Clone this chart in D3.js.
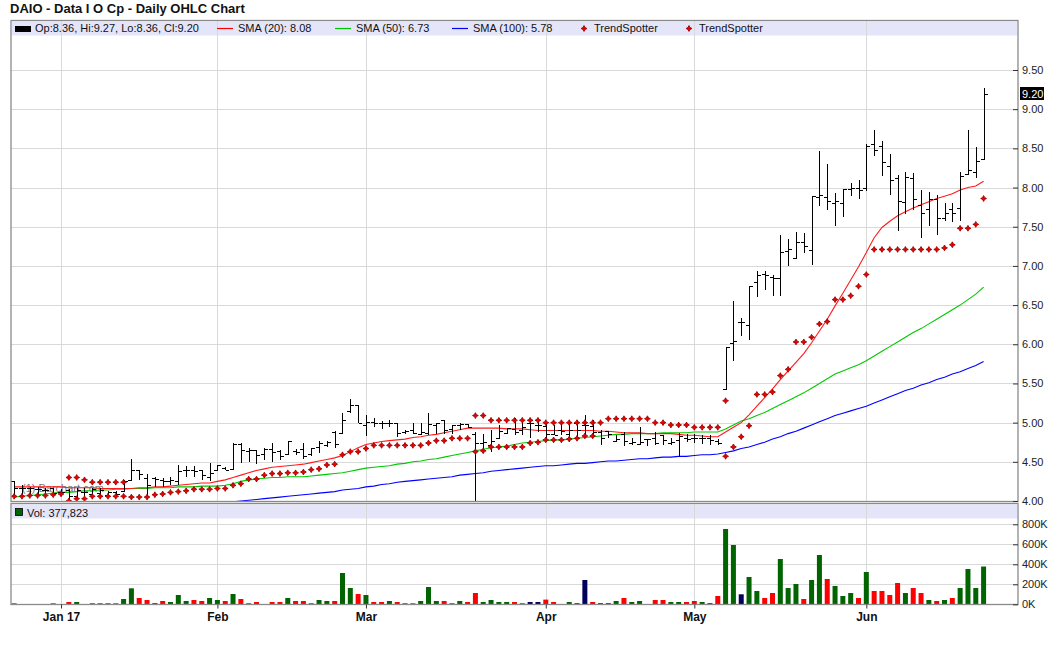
<!DOCTYPE html>
<html><head><meta charset="utf-8">
<script src="https://cdn.jsdelivr.net/npm/d3@7/dist/d3.min.js"></script>
<style>
html,body{margin:0;padding:0;background:#fff;}
svg{display:block;font-family:"Liberation Sans",Arial,Helvetica,sans-serif;}
</style></head><body>
<svg id="chart" width="1060" height="645"></svg>
<script>
// ---- DATA ----
const titleText = "DAIO - Data I O Cp - Daily OHLC Chart";
const monthTickIndex = [6, 26, 45, 68, 87, 109];
const monthTickLabels = ["Jan 17", "Feb", "Mar", "Apr", "May", "Jun"];
const priceTicks = [4.00, 4.50, 5.00, 5.50, 6.00, 6.50, 7.00, 7.50, 8.00, 8.50, 9.00, 9.50];
const volumeTicks = [0, 200, 400, 600, 800];

const openP = [4.25,4.17,4.16,4.15,4.14,4.17,4.11,4.14,4.06,4.12,4.09,4.10,4.08,4.12,4.13,4.27,4.40,4.29,4.29,4.27,
4.26,4.26,4.39,4.40,4.40,4.30,4.40,4.42,4.41,4.73,4.64,4.65,4.60,4.66,4.64,4.60,4.64,4.66,4.60,4.69,
4.72,4.88,4.87,5.15,5.23,4.97,5.01,5.00,4.99,4.99,4.88,4.91,4.86,4.87,4.97,5.04,4.92,4.97,4.98,4.86,
4.74,4.72,4.80,4.87,4.92,4.91,5.00,4.97,4.96,4.86,4.91,4.86,4.99,4.97,4.96,4.88,4.89,4.77,4.86,4.74,
4.73,4.79,4.80,4.84,4.74,4.78,4.80,4.81,4.80,4.80,4.76,5.43,6.02,6.28,6.25,6.79,6.90,6.86,6.84,7.19,
7.10,7.30,7.20,7.88,7.88,7.80,7.80,7.98,7.99,7.99,8.56,8.53,8.28,8.12,7.82,8.12,7.78,7.72,7.85,7.61,
7.72,7.74,8.17,8.20,8.36];
const highP = [4.26,4.20,4.18,4.18,4.16,4.17,4.15,4.15,4.16,4.16,4.17,4.16,4.13,4.13,4.27,4.54,4.40,4.35,4.30,4.29,
4.30,4.46,4.45,4.45,4.40,4.49,4.46,4.44,4.74,4.74,4.67,4.65,4.67,4.74,4.65,4.77,4.66,4.74,4.67,4.76,
4.76,4.89,5.12,5.30,5.23,5.10,5.06,5.02,5.04,4.99,4.90,4.99,4.99,5.12,4.99,5.04,4.97,4.99,4.98,4.88,
4.86,4.90,4.97,4.93,5.06,5.03,5.06,5.04,5.00,4.97,5.00,5.03,5.03,5.10,5.03,4.91,4.89,4.84,4.88,4.80,
4.94,4.79,4.88,4.84,4.80,4.87,4.86,4.86,4.84,4.84,4.79,5.97,6.55,6.33,6.75,6.93,6.94,6.89,7.40,7.34,
7.43,7.42,7.89,8.47,8.30,7.93,7.98,8.06,8.10,8.55,8.74,8.60,8.43,8.16,8.20,8.19,7.97,7.94,7.91,7.80,
7.80,8.20,8.73,8.52,9.27];
const lowP = [4.08,4.08,4.08,4.08,4.08,4.07,4.06,4.02,4.04,4.06,4.07,4.07,4.06,4.07,4.12,4.27,4.27,4.03,4.18,4.18,
4.20,4.20,4.31,4.31,4.27,4.25,4.38,4.39,4.40,4.49,4.50,4.47,4.52,4.50,4.52,4.59,4.59,4.54,4.57,4.61,
4.69,4.68,4.85,5.12,5.00,4.83,4.94,4.92,4.95,4.82,4.85,4.85,4.85,4.84,4.86,4.86,4.86,4.91,4.93,4.00,
4.63,4.62,4.79,4.86,4.84,4.84,4.81,4.88,4.78,4.84,4.84,4.77,4.82,4.83,4.83,4.71,4.81,4.77,4.70,4.72,
4.72,4.70,4.72,4.72,4.72,4.56,4.75,4.74,4.73,4.71,4.71,5.42,5.79,6.10,6.05,6.60,6.69,6.61,6.62,7.00,
7.10,7.16,7.01,7.76,7.71,7.51,7.62,7.89,7.85,7.95,8.40,8.15,7.90,7.44,7.66,7.71,7.35,7.51,7.40,7.57,
7.56,7.57,8.17,8.12,8.36];
const closeP = [4.17,4.17,4.16,4.15,4.14,4.10,4.11,4.06,4.14,4.12,4.15,4.14,4.12,4.09,4.26,4.40,4.35,4.21,4.28,4.26,
4.27,4.38,4.40,4.38,4.33,4.36,4.46,4.40,4.73,4.65,4.65,4.59,4.66,4.63,4.57,4.76,4.63,4.58,4.67,4.74,
4.75,4.73,5.04,5.23,5.00,5.01,5.00,4.99,5.00,4.87,4.89,4.87,4.88,4.98,4.99,4.90,4.97,4.98,4.95,4.74,
4.75,4.76,4.89,4.93,4.88,4.94,5.00,4.97,4.86,4.84,4.89,4.91,4.90,4.97,4.88,4.80,4.86,4.79,4.77,4.75,
4.75,4.79,4.74,4.78,4.75,4.83,4.79,4.80,4.81,4.78,4.74,5.97,6.04,6.28,6.74,6.89,6.88,6.84,7.18,7.22,
7.30,7.26,7.89,7.91,7.83,7.83,7.98,8.00,7.97,8.53,8.48,8.32,8.10,7.83,8.14,7.86,7.67,7.86,7.61,7.68,
7.68,8.15,8.22,8.34,9.20];
// volume in thousands of shares
const volumeK = [10,0,0,0,0,10,0,23,23,0,10,10,10,10,53,160,63,43,13,33,
23,93,33,43,33,63,43,33,103,53,10,23,0,23,23,63,33,33,10,43,
33,33,313,163,103,93,23,23,33,23,10,10,33,173,33,33,10,33,23,113,
23,43,23,23,23,10,23,23,47,23,0,23,13,243,23,13,13,33,63,23,
33,0,43,43,23,23,23,33,23,13,83,753,593,100,273,133,63,113,453,163,
203,53,243,493,253,183,83,113,63,323,133,133,93,213,113,163,113,43,33,43,
63,163,353,163,377.823];
// volume bar direction: u = close above open, d = below, n = unchanged
const volumeDir = ["d","d","d","d","d","d","d","d","u","u","u","u","u","d","u","u","d","d","d","d",
"u","u","u","d","d","u","u","d","u","d","u","d","u","d","d","u","d","d","u","u",
"u","d","u","u","d","u","d","d","u","d","u","d","u","u","u","d","u","u","d","d",
"u","u","u","u","d","u","n","n","d","d","u","u","d","n","d","d","d","u","d","u",
"u","u","d","d","u","u","d","d","u","d","d","u","u","n","u","u","d","d","u","u",
"u","d","u","u","d","u","u","u","d","u","d","d","d","d","u","d","d","u","d","u",
"d","u","u","u","u"];
const sma20 = [4.18,4.18,4.18,4.18,4.18,4.18,4.18,4.17,4.17,4.17,4.17,4.16,4.16,4.16,4.16,4.16,4.17,4.17,4.18,4.18,
4.19,4.20,4.21,4.22,4.23,4.23,4.25,4.27,4.30,4.33,4.36,4.39,4.41,4.43,4.44,4.45,4.46,4.47,4.49,4.51,
4.53,4.55,4.58,4.63,4.68,4.72,4.74,4.76,4.77,4.78,4.79,4.81,4.82,4.84,4.85,4.87,4.89,4.91,4.93,4.93,
4.93,4.93,4.93,4.92,4.92,4.92,4.91,4.90,4.90,4.90,4.90,4.90,4.90,4.90,4.90,4.89,4.89,4.88,4.87,4.87,
4.87,4.86,4.86,4.86,4.86,4.85,4.84,4.84,4.83,4.82,4.82,4.88,4.94,5.00,5.10,5.21,5.32,5.43,5.55,5.66,
5.77,5.88,6.02,6.17,6.32,6.49,6.65,6.82,6.99,7.17,7.36,7.49,7.57,7.64,7.69,7.74,7.78,7.82,7.86,7.89,
7.92,7.97,8.00,8.02,8.08];
const sma50 = [4.05,4.06,4.07,4.08,4.09,4.10,4.11,4.11,4.12,4.13,4.13,4.14,4.14,4.15,4.15,4.16,4.16,4.16,4.17,4.17,
4.17,4.18,4.18,4.18,4.19,4.19,4.19,4.20,4.22,4.25,4.27,4.28,4.29,4.30,4.30,4.31,4.31,4.31,4.32,4.33,
4.34,4.35,4.36,4.38,4.40,4.42,4.43,4.44,4.45,4.47,4.48,4.50,4.51,4.53,4.54,4.56,4.58,4.60,4.62,4.64,
4.66,4.68,4.69,4.70,4.72,4.74,4.75,4.76,4.77,4.78,4.78,4.79,4.80,4.81,4.82,4.83,4.84,4.85,4.85,4.86,
4.86,4.86,4.86,4.87,4.87,4.87,4.87,4.88,4.88,4.88,4.88,4.92,4.97,5.02,5.05,5.09,5.13,5.18,5.23,5.28,
5.33,5.38,5.44,5.50,5.56,5.62,5.66,5.70,5.74,5.79,5.85,5.91,5.97,6.03,6.09,6.15,6.20,6.26,6.32,6.38,
6.44,6.50,6.57,6.64,6.73];
const sma100 = [null,null,null,null,null,null,null,null,null,null,null,null,null,null,null,null,null,null,null,null,
null,null,null,null,null,null,3.96,3.98,3.99,4.00,4.01,4.02,4.03,4.04,4.05,4.06,4.07,4.08,4.09,4.10,
4.11,4.12,4.14,4.15,4.16,4.18,4.19,4.21,4.22,4.24,4.25,4.26,4.27,4.28,4.29,4.30,4.31,4.33,4.34,4.35,
4.36,4.38,4.39,4.40,4.41,4.42,4.43,4.44,4.45,4.45,4.46,4.47,4.48,4.48,4.49,4.50,4.51,4.51,4.52,4.53,
4.54,4.54,4.55,4.56,4.56,4.57,4.57,4.58,4.59,4.59,4.60,4.62,4.64,4.67,4.69,4.72,4.75,4.79,4.82,4.86,
4.89,4.93,4.97,5.01,5.05,5.09,5.12,5.15,5.18,5.21,5.25,5.29,5.33,5.37,5.41,5.44,5.48,5.51,5.55,5.58,
5.62,5.65,5.69,5.73,5.78];
// TrendSpotter stop levels (two series, null where absent)
const trendLower = [4.06,4.06,4.07,4.07,4.07,4.08,4.09,4.00,4.03,4.03,4.06,4.06,4.06,4.06,4.06,4.05,4.05,4.05,4.08,4.09,
4.11,4.12,4.13,4.15,4.15,4.15,4.16,4.16,4.20,4.22,4.28,4.28,4.33,4.35,4.35,4.36,4.36,4.37,4.40,4.41,
4.46,4.47,4.59,4.63,4.63,4.67,4.71,4.71,4.71,4.71,4.71,4.71,4.71,4.74,4.77,4.77,4.80,4.80,4.80,4.63,
4.64,4.69,4.69,4.69,4.69,4.69,4.74,4.75,4.78,4.78,4.78,4.79,4.80,4.83,4.83,null,null,null,null,null,
null,null,null,null,null,null,null,null,null,null,null,4.57,4.69,4.82,4.96,5.36,5.36,5.39,5.60,5.68,
6.03,6.03,6.09,6.26,6.29,6.57,6.57,6.62,6.74,6.89,7.21,7.21,7.21,7.21,7.21,7.21,7.21,7.21,7.21,7.23,
7.27,7.48,7.48,7.53,7.86];
const trendUpper = [null,null,null,null,null,null,null,4.30,4.30,4.27,4.24,4.24,4.24,4.24,4.24,null,null,null,null,null,
null,null,null,null,null,null,null,null,null,null,null,null,null,null,null,null,null,null,null,null,
null,null,null,null,null,null,null,null,null,null,null,null,null,null,null,null,null,null,null,5.09,
5.09,5.03,5.03,5.03,5.03,5.03,5.03,5.03,5.00,5.00,5.00,5.00,5.00,5.00,5.00,5.00,5.05,5.05,5.05,5.05,
5.05,5.05,5.00,5.00,4.97,4.97,4.97,4.94,4.94,4.94,4.94,5.28,null,null,null,null,null,null,null,null,
null,null,null,null,null,null,null,null,null,null,null,null,null,null,null,null,null,null,null,null,
null,null,null,null,null];

// ---- LAYOUT ----
const svg = d3.select("#chart");
const L = 11, R = 1018;
const pTop = 20.5, pBot = 501.5, vTop = 503.5, vBot = 604.5;
const n = closeP.length;
const x = d3.scaleLinear().domain([-0.4, 128.4]).range([L, R]);
const yP = d3.scaleLinear().domain([4, 9.5]).range([501, 70]);
const yV = d3.scaleLinear().domain([0, 800]).range([604.3, 524.3]);
const idx = d3.range(n);
const gridColor = "#d9d9d9";
const fontSmall = 11;

// title
svg.append("text").attr("x", 10).attr("y", 13).attr("font-size", 13).attr("font-weight", "bold")
  .attr("fill", "#111").text(titleText);

// panel backgrounds + bands
svg.append("rect").attr("x", L).attr("y", pTop).attr("width", R - L).attr("height", pBot - pTop).attr("fill", "#fff");
svg.append("rect").attr("x", L).attr("y", vTop).attr("width", R - L).attr("height", vBot - vTop).attr("fill", "#fff");
svg.append("rect").attr("x", L + 1).attr("y", pTop + 1).attr("width", R - L - 2).attr("height", 14).attr("fill", "#e5e5fa");
svg.append("rect").attr("x", L + 1).attr("y", vTop + 1).attr("width", R - L - 2).attr("height", 14).attr("fill", "#e5e5fa");

// gridlines
const grid = svg.append("g").attr("stroke", gridColor).attr("stroke-width", 1);
priceTicks.filter(t => t > 4).forEach(t => {
  grid.append("line").attr("x1", L).attr("x2", R).attr("y1", Math.round(yP(t)) + 0.5).attr("y2", Math.round(yP(t)) + 0.5);
});
volumeTicks.filter(t => t > 0).forEach(t => {
  grid.append("line").attr("x1", L).attr("x2", R).attr("y1", Math.round(yV(t)) + 0.5).attr("y2", Math.round(yV(t)) + 0.5);
});
monthTickIndex.forEach(i => {
  const xx = Math.round(x(i)) + 0.5;
  grid.append("line").attr("x1", xx).attr("x2", xx).attr("y1", pTop).attr("y2", pBot);
  grid.append("line").attr("x1", xx).attr("x2", xx).attr("y1", vTop).attr("y2", vBot);
});

// clip paths
const defs = svg.append("defs");
defs.append("clipPath").attr("id", "clipP").append("rect").attr("x", L).attr("y", pTop).attr("width", R - L).attr("height", pBot - pTop);
defs.append("clipPath").attr("id", "clipV").append("rect").attr("x", L).attr("y", vTop).attr("width", R - L).attr("height", vBot - vTop);

// watermark
svg.append("text").attr("x", 22).attr("y", 492).attr("font-size", 11).attr("fill", "#555").attr("opacity", 0.8)
  .text("(1) Barchart.com");

const pg = svg.append("g").attr("clip-path", "url(#clipP)");

// SMA lines
const smaLine = d3.line().defined(d => d.v != null).x(d => x(d.i)).y(d => yP(d.v));
[[sma100, "#0000ff"], [sma50, "#00c800"], [sma20, "#ff1a1a"]].forEach(([arr, col]) => {
  pg.append("path").datum(idx.map(i => ({ i, v: arr[i] })))
    .attr("d", smaLine).attr("fill", "none").attr("stroke", col).attr("stroke-width", 1.1);
});

// OHLC bars
const bars = pg.append("g").attr("stroke", "#000").attr("stroke-width", 1).attr("shape-rendering", "crispEdges");
idx.forEach(i => {
  const xx = Math.round(x(i)) + 0.5;
  bars.append("line").attr("x1", xx).attr("x2", xx).attr("y1", yP(highP[i])).attr("y2", yP(lowP[i]));
  bars.append("line").attr("x1", xx - 3.5).attr("x2", xx).attr("y1", Math.round(yP(openP[i])) + 0.5).attr("y2", Math.round(yP(openP[i])) + 0.5);
  bars.append("line").attr("x1", xx).attr("x2", xx + 3.5).attr("y1", Math.round(yP(closeP[i])) + 0.5).attr("y2", Math.round(yP(closeP[i])) + 0.5);
});

// TrendSpotter markers (small four-pointed star)
const marker = "M0,-2.9L1,-1L2.9,0L1,1L0,2.9L-1,1L-2.9,0L-1,-1Z";
[trendLower, trendUpper].forEach(arr => {
  idx.filter(i => arr[i] != null).forEach(i => {
    pg.append("path").attr("d", marker).attr("transform", `translate(${x(i)},${yP(arr[i])})`)
      .attr("fill", "#e60000").attr("stroke", "#a00000").attr("stroke-width", 0.9).attr("stroke-linejoin", "round");
  });
});

// volume bars
const vg = svg.append("g").attr("clip-path", "url(#clipV)");
const volColor = { u: "#006400", d: "#ff0000", n: "#00005a" };
idx.filter(i => volumeK[i] > 0).forEach(i => {
  vg.append("rect").attr("x", x(i) - 2.5).attr("width", 5)
    .attr("y", yV(volumeK[i])).attr("height", yV(0) - yV(volumeK[i]))
    .attr("fill", volColor[volumeDir[i]]);
});

// panel borders
svg.append("rect").attr("x", L).attr("y", pTop).attr("width", R - L).attr("height", pBot - pTop)
  .attr("fill", "none").attr("stroke", "#8a8a8a").attr("stroke-width", 1.3);
svg.append("rect").attr("x", L).attr("y", vTop).attr("width", R - L).attr("height", vBot - vTop)
  .attr("fill", "none").attr("stroke", "#8a8a8a").attr("stroke-width", 1.3);

// axes
function styleAxis(g) {
  g.select(".domain").remove();
  g.selectAll(".tick line").attr("stroke", "#333");
  g.selectAll(".tick text").attr("fill", "#222").attr("font-size", fontSmall)
    .attr("font-family", '"Liberation Sans",Arial,sans-serif');
}
svg.append("g").attr("transform", `translate(${R},0)`)
  .call(d3.axisRight(yP).tickValues(priceTicks).tickFormat(d3.format(".2f")).tickSizeInner(-5).tickSizeOuter(0).tickPadding(4))
  .call(styleAxis);
svg.append("g").attr("transform", `translate(${R},0)`)
  .call(d3.axisRight(yV).tickValues(volumeTicks).tickFormat(d => d + "K").tickSizeInner(-5).tickSizeOuter(0).tickPadding(4))
  .call(styleAxis);
svg.append("g").attr("transform", `translate(0,${vBot})`)
  .call(d3.axisBottom(x).tickValues(monthTickIndex).tickFormat((d, k) => monthTickLabels[k]).tickSizeInner(4).tickSizeOuter(0).tickPadding(4))
  .call(styleAxis)
  .call(g => g.selectAll(".tick text").attr("font-weight", "bold").attr("font-size", 12).attr("fill", "#111"));

// last price flag
const last = n - 1;
const fy = yP(closeP[last]);
svg.append("rect").attr("x", 1020).attr("y", fy - 6.5).attr("width", 24).attr("height", 13).attr("fill", "#000");
svg.append("text").attr("x", 1022).attr("y", fy + 4).attr("font-size", fontSmall).attr("fill", "#fff")
  .text(d3.format(".2f")(closeP[last]));

// legends
const f2 = d3.format(".2f");
const lg = svg.append("g").attr("font-size", fontSmall).attr("fill", "#111");
lg.append("rect").attr("x", 15).attr("y", 26).attr("width", 16).attr("height", 6).attr("fill", "#000");
lg.append("text").attr("x", 35).attr("y", 32)
  .text(`Op:${f2(openP[last])}, Hi:${f2(highP[last])}, Lo:${f2(lowP[last])}, Cl:${f2(closeP[last])}`);
[[217, "#ff0000", "SMA (20): " + f2(sma20[last])],
 [335, "#00c800", "SMA (50): " + f2(sma50[last])],
 [452, "#0000ff", "SMA (100): " + f2(sma100[last])]].forEach(([lx, col, txt]) => {
  lg.append("line").attr("x1", lx).attr("x2", lx + 16).attr("y1", 28.5).attr("y2", 28.5).attr("stroke", col).attr("stroke-width", 1.2);
  lg.append("text").attr("x", lx + 21).attr("y", 32).text(txt);
});
[584, 689].forEach(lx => {
  lg.append("path").attr("d", marker).attr("transform", `translate(${lx},28.5)`)
    .attr("fill", "#e60000").attr("stroke", "#a00000").attr("stroke-width", 0.9).attr("stroke-linejoin", "round");
  lg.append("text").attr("x", lx + 10).attr("y", 32).text("TrendSpotter");
});
lg.append("rect").attr("x", 15.5).attr("y", 508.5).attr("width", 7).attr("height", 7).attr("fill", "#006400").attr("stroke", "#000").attr("stroke-width", 0.8);
lg.append("text").attr("x", 27).attr("y", 516.5).text("Vol: " + d3.format(",")(Math.round(volumeK[last] * 1000)));
</script>
</body></html>
